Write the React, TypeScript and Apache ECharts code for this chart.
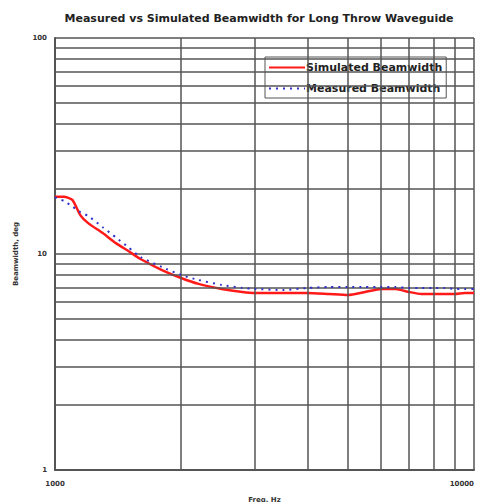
import React, { useEffect, useRef } from "react";
import * as echarts from "echarts";

const titleText = "Measured vs Simulated Beamwidth for Long Throw Waveguide";
const freqs = [1000, 1050, 1100, 1150, 1200, 1300, 1400, 1500, 1600, 1800, 2000, 2200, 2500, 2800, 3000, 3500, 4000, 4500, 5000, 5500, 6000, 6500, 7000, 7500, 8000, 8500, 9000, 9500, 10000];
const simulated = [18.4, 18.4, 17.8, 15.1, 13.9, 12.5, 11.2, 10.3, 9.48, 8.43, 7.74, 7.27, 6.89, 6.67, 6.6, 6.6, 6.6, 6.53, 6.46, 6.67, 6.89, 6.89, 6.67, 6.53, 6.53, 6.53, 6.53, 6.6, 6.6];
const measured = [18.3, 17.6, 16.6, 15.6, 15.0, 13.3, 11.9, 10.7, 9.69, 8.7, 8.0, 7.58, 7.19, 6.96, 6.89, 6.81, 6.96, 7.03, 7.03, 7.03, 7.03, 7.03, 6.96, 6.96, 6.96, 6.96, 6.89, 6.89, 6.89];
const yMinorGrid = [2, 3, 4, 5, 6, 7, 8, 9, 20, 30, 40, 50, 60, 70, 80, 90];
const xMinorGrid = [2000, 3000, 4000, 5000, 6000, 7000, 8000, 9000];

export default function App() {
  const ref = useRef<HTMLDivElement>(null);
  useEffect(() => {
    if (!ref.current) return;
    const chart = echarts.init(ref.current, null, { renderer: "svg" });
    const gridColor = "#555555";
    const font = "'DejaVu Sans', Verdana, sans-serif";
    const labelStyle = { fontFamily: font, fontSize: 7, fontWeight: "bold", color: "#333" };
    chart.setOption({
      animation: false,
      backgroundColor: "#ffffff",
      title: {
        text: titleText,
        left: 254,
        textAlign: "center",
        top: 8,
        textStyle: { fontFamily: font, fontSize: 11, fontWeight: "bold", color: "#222" },
      },
      legend: {
        orient: "vertical",
        left: 265,
        top: 57,
        padding: [5, 4, 4, 3],
        itemGap: 10,
        itemWidth: 36,
        itemHeight: 10,
        borderColor: "#555",
        borderWidth: 1,
        backgroundColor: "#ffffff",
        itemStyle: { opacity: 0 },
        textStyle: { fontFamily: font, fontSize: 11, fontWeight: "bold", color: "#222", padding: [0, 0, 0, -4] },
        data: ["Simulated Beamwidth", "Measured Beamwidth"],
      },
      grid: { left: 55, right: 5, top: 38, bottom: 32, containLabel: false, outerBoundsMode: "none" },
      xAxis: {
        type: "log",
        logBase: 10,
        min: 1000,
        max: 10000,
        name: "Freq, Hz",
        nameLocation: "middle",
        nameGap: 26,
        nameTextStyle: labelStyle,
        axisLine: { show: true, lineStyle: { color: gridColor, width: 2 } },
        axisTick: { show: false },
        axisLabel: {
          ...labelStyle,
          margin: 10,
          showMaxLabel: true,
          alignMaxLabel: "right",
          formatter: (v: number) => String(Math.round(v)),
        },
        splitLine: { show: true, lineStyle: { color: gridColor, width: 1.5 } },
      },
      yAxis: {
        type: "log",
        logBase: 10,
        min: 1,
        max: 100,
        name: "Beamwidth, deg",
        nameLocation: "middle",
        nameGap: 36,
        nameRotate: 90,
        nameTextStyle: labelStyle,
        axisLine: { show: true, lineStyle: { color: gridColor, width: 2 } },
        axisTick: { show: false },
        axisLabel: { ...labelStyle, margin: 8, formatter: (v: number) => String(Math.round(v)) },
        splitLine: { show: true, lineStyle: { color: gridColor, width: 1.5 } },
      },
      series: [
        {
          name: "grid",
          type: "line",
          data: [],
          silent: true,
          markLine: {
            silent: true,
            symbol: "none",
            label: { show: false },
            lineStyle: { color: gridColor, width: 1.5, type: "solid" },
            data: [
              ...yMinorGrid.map((v) => ({ yAxis: v })),
              ...xMinorGrid.map((v) => ({ xAxis: v })),
            ],
          },
        },
        {
          name: "Simulated Beamwidth",
          type: "line",
          showSymbol: false,
          symbol: "none",
          smooth: 0.2,
          data: freqs.map((f, i) => [f, simulated[i]]),
          lineStyle: { color: "#ff1a1a", width: 2.5 },
          itemStyle: { color: "#ff1a1a" },
          z: 4,
        },
        {
          name: "Measured Beamwidth",
          type: "line",
          showSymbol: false,
          symbol: "none",
          smooth: 0.2,
          data: freqs.map((f, i) => [f, measured[i]]),
          lineStyle: { color: "#3030c8", width: 2, type: [2, 5] },
          itemStyle: { color: "#3030c8" },
          z: 5,
        },
      ],
    });
    return () => chart.dispose();
  }, []);
  return <div ref={ref} style={{ width: 479, height: 502, position: "absolute", left: 0, top: 0 }} />;
}
